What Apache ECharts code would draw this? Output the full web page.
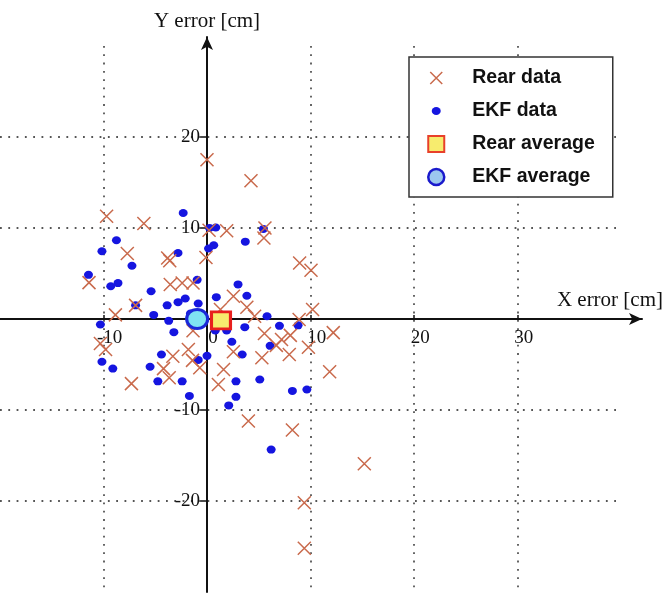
<!DOCTYPE html>
<html>
<head>
<meta charset="utf-8">
<script src="https://cdn.jsdelivr.net/npm/echarts@6/dist/echarts.min.js"></script>
<style>
  html, body { margin: 0; padding: 0; background: #fff; }
  #chart { width: 670px; height: 594px; }
</style>
</head>
<body>
<div id="chart"></div>
<script>
// Rear data points [x, y] in cm
const rearData = [
  [0.0, 17.5], [4.25, 15.2], [-9.7, 11.3], [-6.1, 10.5], [0.2, 9.75], [1.9, 9.7],
  [5.6, 10.0], [5.5, 8.9], [-7.7, 7.2], [-3.8, 6.7], [-3.6, 6.4], [-0.1, 6.75],
  [8.95, 6.15], [10.05, 5.35], [-11.4, 4.0], [-3.55, 3.8], [-2.4, 3.95], [-1.35, 3.95],
  [2.55, 2.5], [-6.9, 1.5], [-8.85, 0.45], [3.85, 1.3], [1.3, 1.05], [4.6, 0.3],
  [8.9, -0.05], [10.2, 1.05], [-1.35, -1.3], [5.55, -1.6], [7.2, -2.25], [8.05, -1.8],
  [6.7, -2.9], [12.2, -1.5], [-10.3, -2.7], [-9.8, -3.35], [-1.8, -3.35], [-3.3, -4.1],
  [2.55, -3.6], [-1.4, -4.55], [-0.7, -5.35], [-4.2, -5.45], [-3.65, -6.45], [1.6, -5.55],
  [1.1, -7.2], [-7.3, -7.1], [5.3, -4.25], [7.95, -3.9], [9.8, -3.1], [4.0, -11.2],
  [8.25, -12.2], [9.4, -20.2], [9.4, -25.2], [11.85, -5.8], [15.2, -15.9]
];

// EKF data points [x, y] in cm
const ekfData = [
  [-2.3, 11.65], [-10.15, 7.45], [-8.75, 8.65], [-7.25, 5.85], [-2.8, 7.25], [0.25, 10.0],
  [0.85, 10.05], [0.15, 7.75], [0.65, 8.1], [3.7, 8.5], [5.45, 9.9], [-11.45, 4.85],
  [-9.3, 3.6], [-8.6, 3.95], [-5.4, 3.05], [-0.95, 4.3], [3.0, 3.8], [3.85, 2.55],
  [0.9, 2.4], [-2.1, 2.25], [-3.85, 1.5], [-2.8, 1.85], [-0.85, 1.7], [-5.15, 0.45],
  [-3.7, -0.2], [-3.2, -1.45], [-10.3, -0.6], [5.8, 0.3], [7.0, -0.75], [8.8, -0.7],
  [3.65, -0.9], [2.4, -2.5], [3.4, -3.9], [0.0, -4.05], [-4.4, -3.9], [-0.85, -4.5],
  [-10.15, -4.7], [-9.1, -5.45], [-5.5, -5.25], [-4.75, -6.85], [-2.4, -6.85], [-1.7, -8.45],
  [2.8, -6.85], [2.8, -8.55], [2.1, -9.5], [5.1, -6.65], [8.25, -7.9], [9.65, -7.75],
  [6.2, -14.35], [6.1, -2.95], [-6.9, 1.5], [0.8, -1.25], [1.9, -1.25], [-1.6, 0.6]
];

const rearAverage = [[1.35, -0.15]];
const ekfAverage = [[-0.95, 0.0]];

const xLabelValues = [-10, 0, 10, 20, 30];
const xTickValues = [-10, 10, 20, 30];
const yLabelValues = [-20, -10, 10, 20];

const crossColor = '#c96a4c';
const dotColor = '#1515e0';
const serif = 'Liberation Serif';
const crossPath = 'path://M0,0L10,10M10,0L0,10';

const chart = echarts.init(document.getElementById('chart'));
chart.setOption({
  animation: false,
  backgroundColor: '#fff',
  grid: [
    // data + dotted grid
    { left: 0, top: 46, width: 621, height: 546, outerBoundsMode: 'none' },
    // axis lines with arrows (same scale, a bit longer)
    { left: 0, top: 37, width: 642, height: 555, outerBoundsMode: 'none' }
  ],
  xAxis: [
    {
      gridIndex: 0, type: 'value', min: -20, max: 40, interval: 10,
      axisLine: { show: false }, axisTick: { show: false }, axisLabel: { show: false },
      splitLine: {
        show: true, showMinLine: false, showMaxLine: false,
        lineStyle: { color: '#555', width: 1.8, type: [1.8, 6.5] }
      }
    },
    {
      gridIndex: 1, type: 'value', min: -20, max: 42, interval: 10,
      position: 'bottom', offset: -273,
      name: 'X error [cm]', nameLocation: 'end', nameGap: 21,
      nameTextStyle: {
        fontFamily: serif, fontSize: 21, color: '#111',
        align: 'right', verticalAlign: 'bottom', padding: [0, 0, 8, 0]
      },
      axisLine: {
        show: true, onZero: false, symbol: ['none', 'arrow'], symbolSize: [9, 13],
        lineStyle: { color: '#111', width: 2 }
      },
      axisTick: { show: true, inside: true, length: 4, customValues: xTickValues,
        lineStyle: { color: '#111', width: 1.5 } },
      axisLabel: {
        show: true, customValues: xLabelValues, margin: 10,
        fontFamily: serif, fontSize: 19, color: '#111', padding: [0, 0, 0, 12]
      },
      splitLine: { show: false }
    }
  ],
  yAxis: [
    {
      gridIndex: 0, type: 'value', min: -30, max: 30, interval: 10,
      axisLine: { show: false }, axisTick: { show: false }, axisLabel: { show: false },
      splitLine: {
        show: true, showMinLine: false, showMaxLine: false,
        lineStyle: { color: '#555', width: 1.8, type: [1.8, 6.5] }
      }
    },
    {
      gridIndex: 1, type: 'value', min: -30, max: 31, interval: 10,
      position: 'left', offset: -207,
      name: 'Y error [cm]', nameLocation: 'end', nameGap: 5,
      nameTextStyle: { fontFamily: serif, fontSize: 21, color: '#111' },
      axisLine: {
        show: true, onZero: false, symbol: ['none', 'arrow'], symbolSize: [9, 13],
        lineStyle: { color: '#111', width: 2 }
      },
      axisTick: { show: true, length: 6, customValues: yLabelValues,
        lineStyle: { color: '#111', width: 1.5 } },
      axisLabel: {
        show: true, customValues: yLabelValues, margin: 7,
        fontFamily: serif, fontSize: 19, color: '#111'
      },
      splitLine: { show: false }
    }
  ],
  legend: {
    left: 409, top: 57,
    orient: 'vertical',
    selectedMode: false,
    backgroundColor: '#fff',
    borderColor: '#333', borderWidth: 1.5,
    padding: [11, 18, 10, 18],
    itemWidth: 16, itemHeight: 16, itemGap: 13,
    textStyle: {
      fontFamily: 'Liberation Sans', fontWeight: 'bold', fontSize: 19.5,
      color: '#111', lineHeight: 19, padding: [0, 0, 0, 23]
    },
    data: [
      { name: 'Rear data', icon: 'path://M0,0M16,16M2,2L14,14M14,2L2,14',
        itemStyle: { color: 'rgba(0,0,0,0)', borderColor: crossColor, borderWidth: 1.5 } },
      { name: 'EKF data', icon: 'path://M0,0M16,16M8,4A4.5,4 0 1 1 7.99,4Z',
        itemStyle: { color: dotColor, borderWidth: 0 } },
      { name: 'Rear average', icon: 'rect',
        itemStyle: { color: '#f7ec6e', borderColor: '#e8402a', borderWidth: 2 } },
      { name: 'EKF average', icon: 'circle',
        itemStyle: { color: '#9cc8ef', borderColor: '#1a1acc', borderWidth: 2.5 } }
    ]
  },
  series: [
    {
      name: 'EKF data', type: 'scatter', xAxisIndex: 0, yAxisIndex: 0,
      data: ekfData, symbol: 'circle', symbolSize: [9, 8],
      itemStyle: { color: dotColor, opacity: 1 }
    },
    {
      name: 'Rear data', type: 'scatter', xAxisIndex: 0, yAxisIndex: 0,
      data: rearData, symbol: crossPath, symbolSize: 13,
      itemStyle: { color: 'rgba(0,0,0,0)', borderColor: crossColor, borderWidth: 1.5, opacity: 1 }
    },
    {
      name: 'EKF average', type: 'scatter', xAxisIndex: 0, yAxisIndex: 0,
      data: ekfAverage, symbol: 'circle', symbolSize: [21, 19], z: 5,
      itemStyle: { color: '#7fe3f2', borderColor: '#1a28d8', borderWidth: 3, opacity: 1 }
    },
    {
      name: 'Rear average', type: 'scatter', xAxisIndex: 0, yAxisIndex: 0,
      data: rearAverage, symbol: 'rect', symbolSize: [19, 17], z: 5,
      itemStyle: { color: '#f7ec6e', borderColor: '#e8201e', borderWidth: 3, opacity: 1 }
    }
  ]
});
</script>
</body>
</html>
